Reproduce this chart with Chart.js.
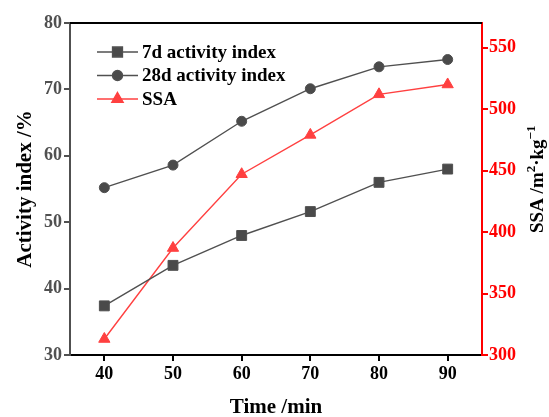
<!DOCTYPE html>
<html>
<head>
<meta charset="utf-8">
<script src="https://cdn.jsdelivr.net/npm/chart.js@4.4.1/dist/chart.umd.min.js"></script>
<style>
  html, body { margin: 0; padding: 0; background: #fff; }
  #wrap { width: 549px; height: 417px; }
</style>
</head>
<body>
<div id="wrap"><canvas id="activityChart" width="549" height="417"></canvas></div>
<script>
// grinding time vs. activity index and specific surface area
const times = [40, 50, 60, 70, 80, 90];
const act7d = [37.4, 43.5, 48.0, 51.6, 56.0, 58.0];
const act28d = [55.2, 58.6, 65.2, 70.1, 73.4, 74.5];
const ssa = [313, 387, 447, 479, 512, 520];

const xTicks = [40, 50, 60, 70, 80, 90];
const leftTicks = [30, 40, 50, 60, 70, 80];
const rightTicks = [300, 350, 400, 450, 500, 550];

const SERIF = '"Liberation Serif", "Times New Roman", serif';
const GRAY = '#505050';
const RED = '#ff4040';

function toPoints(ys) {
    return times.map((t, i) => ({ x: t, y: ys[i] }));
}

// top frame line, custom legend inside the plot and the right axis title
const extras = {
    id: 'extras',
    afterDraw(chart) {
        const ctx = chart.ctx;
        const area = chart.chartArea;
        ctx.save();

        ctx.strokeStyle = '#000';
        ctx.lineWidth = 2;
        ctx.beginPath();
        ctx.moveTo(area.left, area.top);
        ctx.lineTo(area.right, area.top);
        ctx.stroke();

        // legend
        const x0 = 97, x1 = 138;
        let y = 52;
        ctx.textBaseline = 'middle';
        chart.data.datasets.forEach(ds => {
            ctx.strokeStyle = ds.borderColor;
            ctx.lineWidth = ds.borderWidth;
            ctx.beginPath();
            ctx.moveTo(x0, y);
            ctx.lineTo(x1, y);
            ctx.stroke();
            ctx.fillStyle = ds.backgroundColor;
            ctx.strokeStyle = ds.borderColor;
            Chart.helpers.drawPoint(ctx, {
                pointStyle: ds.pointStyle,
                radius: ds.pointRadius,
                borderWidth: 1
            }, (x0 + x1) / 2, y);
            ctx.font = 'bold 19px ' + SERIF;
            ctx.fillStyle = '#000';
            ctx.fillText(ds.label, 142, y + 1);
            y += 23.5;
        });

        // right axis title, read bottom to top
        ctx.translate(543, 233);
        ctx.rotate(-Math.PI / 2);
        ctx.fillStyle = '#000';
        ctx.textBaseline = 'alphabetic';
        let tx = 0;
        const parts = [
            ['SSA /m', 19, 0],
            ['2', 13, -8],
            ['\u00b7kg', 19, 0],
            ['\u22121', 13, -8]
        ];
        parts.forEach(([t, size, dy]) => {
            ctx.font = 'bold ' + size + 'px ' + SERIF;
            ctx.fillText(t, tx, dy);
            tx += ctx.measureText(t).width;
        });
        ctx.restore();
    }
};

// keep only the listed tick values
function fixTicks(values) {
    return scale => { scale.ticks = values.map(v => ({ value: v })); };
}

new Chart(document.getElementById('activityChart'), {
    type: 'line',
    data: {
        datasets: [
            {
                label: '7d activity index',
                data: toPoints(act7d),
                yAxisID: 'y',
                borderColor: GRAY,
                backgroundColor: '#4a4a4a',
                borderWidth: 1.4,
                pointStyle: 'rect',
                pointRadius: 7,
                pointBorderWidth: 1
            },
            {
                label: '28d activity index',
                data: toPoints(act28d),
                yAxisID: 'y',
                borderColor: GRAY,
                backgroundColor: '#4a4a4a',
                borderWidth: 1.4,
                pointStyle: 'circle',
                pointRadius: 5,
                pointBorderWidth: 1
            },
            {
                label: 'SSA',
                data: toPoints(ssa),
                yAxisID: 'y1',
                borderColor: RED,
                backgroundColor: RED,
                borderWidth: 1.4,
                pointStyle: 'triangle',
                pointRadius: 6.5,
                pointBorderWidth: 1
            }
        ]
    },
    options: {
        responsive: false,
        animation: false,
        layout: { padding: { top: 23, left: 0, right: 0, bottom: 0 } },
        plugins: {
            legend: { display: false },
            tooltip: { enabled: false }
        },
        scales: {
            x: {
                type: 'linear',
                position: 'bottom',
                min: 35,
                max: 95,
                afterBuildTicks: fixTicks(xTicks),
                afterFit: s => { s.height = 62; },
                grid: { drawOnChartArea: false, tickLength: 6, color: '#000', lineWidth: 2 },
                border: { color: '#000', width: 2 },
                ticks: {
                    color: '#000',
                    padding: 3,
                    font: { family: SERIF, size: 18, weight: 'bold' }
                },
                title: {
                    display: true,
                    text: 'Time /min',
                    color: '#000',
                    padding: { top: 0, bottom: 0 },
                    font: { family: SERIF, size: 21, weight: 'bold', lineHeight: 0.86 }
                }
            },
            y: {
                position: 'left',
                min: 30,
                max: 80,
                afterBuildTicks: fixTicks(leftTicks),
                afterFit: s => { s.width = 70; },
                grid: { drawOnChartArea: false, tickLength: 6, color: GRAY, lineWidth: 2 },
                border: { color: GRAY, width: 2 },
                ticks: {
                    color: GRAY,
                    padding: 2,
                    font: { family: SERIF, size: 18, weight: 'bold' }
                },
                title: {
                    display: true,
                    text: 'Activity index /%',
                    color: '#000',
                    padding: { top: 15, bottom: 0 },
                    font: { family: SERIF, size: 21, weight: 'bold', lineHeight: 1 }
                }
            },
            y1: {
                position: 'right',
                min: 300,
                max: 570,
                afterBuildTicks: fixTicks(rightTicks),
                afterFit: s => { s.width = 67; },
                grid: { drawOnChartArea: false, tickLength: 6, color: '#ff0000', lineWidth: 2 },
                border: { color: '#ff0000', width: 2 },
                ticks: {
                    color: '#ff0000',
                    padding: 1,
                    font: { family: SERIF, size: 18, weight: 'bold' }
                }
            }
        }
    },
    plugins: [extras]
});
</script>
</body>
</html>
